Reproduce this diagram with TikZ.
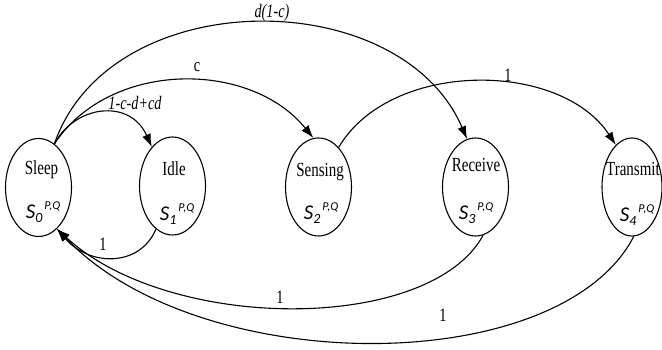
\documentclass[tikz,border=0pt]{standalone}
\usepackage{fontspec}
\setmainfont{Liberation Serif}
\newfontfamily\carl{Carlito}
\usetikzlibrary{shapes.geometric,arrows.meta}
\newcommand{\cnd}[1]{\scalebox{0.75}[1]{#1}}
\newcommand{\stl}[1]{{\carl\itshape\fontsize{21}{21}\selectfont S\raisebox{-4pt}{\fontsize{14}{14}\selectfont #1}\hspace{2pt}\raisebox{9pt}{\fontsize{12}{12}\selectfont P,Q}}}
\begin{document}
\begin{tikzpicture}[x=1pt,y=1pt,
  st/.style={draw, ellipse, line width=1.1pt, minimum width=66pt, minimum height=98pt, inner sep=0pt},
  nm/.style={font=\fontsize{20}{20}\selectfont, inner sep=0pt},
  sl/.style={inner sep=0pt},
  lb/.style={font=\fontsize{19}{19}\selectfont, inner sep=0pt},
  ed/.style={line width=1.1pt, -{Latex[length=13pt,width=9pt]}}]
\useasboundingbox (0,0) rectangle (662,350);
% states
\node[st] (sleep) at (38.5,162.5) {};
\node[st] (idle) at (172.5,164) {};
\node[st] (sensing) at (318.5,163) {};
\node[st] (receive) at (475.5,163) {};
\node[st, minimum width=60pt] (transmit) at (632,163) {};
% names
\node[nm] (sleepn) at (41.5,180) {\cnd{Sleep}};
\node[nm] (idlen) at (174,181) {\cnd{Idle}};
\node[nm] (sensingn) at (320,178) {\cnd{Sensing}};
\node[nm] (receiven) at (476,185) {\cnd{Receive}};
\node[nm] (transmitn) at (633,181) {\cnd{Transmit}};
% state symbols
\node[sl] (sleeps) at (43,138) {\stl{0}};
\node[sl] (idles) at (177,136) {\stl{1}};
\node[sl] (sensings) at (321,137) {\stl{2}};
\node[sl] (receives) at (476,137) {\stl{3}};
\node[sl] (transmits) at (637,135) {\stl{4}};
% forward transitions
\draw[ed] (sleep.70) .. controls (75,245) and (130,252) .. (idle.118);
\draw[ed] (sleep.70) .. controls (110,290) and (250,290) .. (sensing.96);
\draw[ed] (sleep.70) .. controls (110,367) and (400,367) .. (receive.100);
\draw[ed] (sensing.63) .. controls (390,290) and (560,290) .. (transmit.111);
% return transitions
\draw[ed] (idle.249) .. controls (140,83) and (90,83) .. (sleep.294);
\draw[ed] (receive.279) .. controls (430,17) and (170,17) .. (sleep.294);
\draw[ed] (transmit.272) .. controls (560,-29) and (200,-29) .. (sleep.294);
% labels
\node[lb] (l1) at (135,247) {\cnd{\itshape 1-c-d+cd}};
\node[lb] (l2) at (197,283) {\cnd{c}};
\node[lb] (l3) at (272,337) {\cnd{\itshape d(1-c)}};
\node[lb] (l4) at (508,275) {\cnd{1}};
\node[lb] (l5) at (103,106) {\cnd{1}};
\node[lb] (l6) at (280,53) {\cnd{1}};
\node[lb] (l7) at (443,35) {\cnd{1}};
\end{tikzpicture}
\end{document}
